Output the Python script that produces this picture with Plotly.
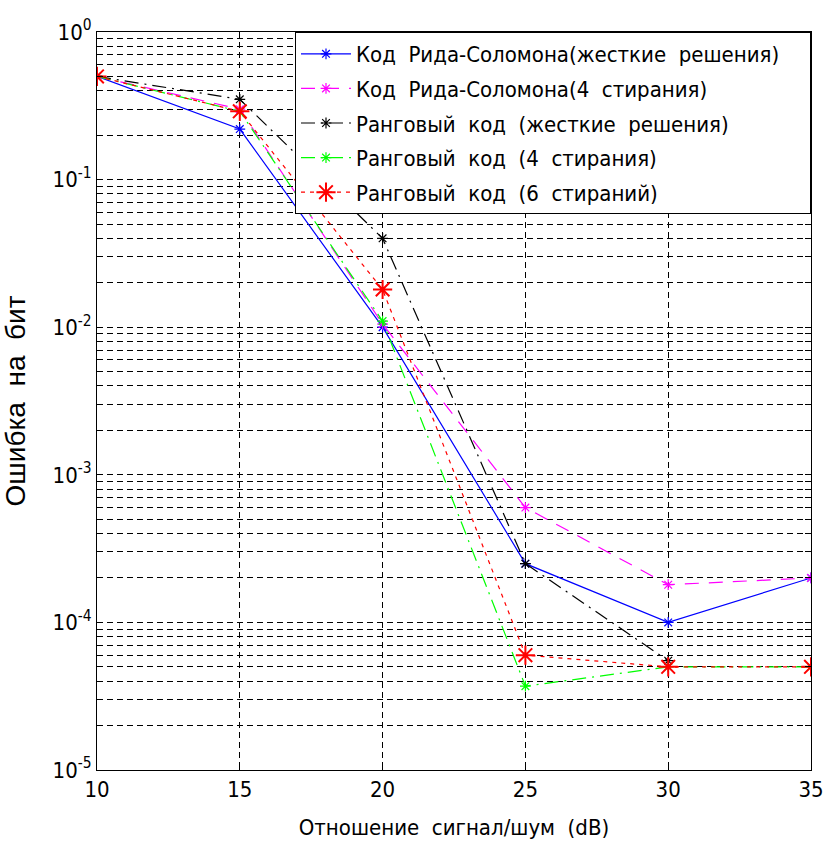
import plotly.graph_objects as go

snr = [10, 15, 20, 25, 30, 35]
snr_black = [10, 15, 20, 25, 30]

rs_hard = [0.5, 0.22, 0.0100, 2.5e-4, 1.0e-4, 2.0e-4]
rs_4er = [0.5, 0.30, 0.0105, 6.0e-4, 1.8e-4, 2.0e-4]
rank_hard = [0.5, 0.35, 0.040, 2.5e-4, 5.5e-5]
rank_4er = [0.5, 0.29, 0.0110, 3.7e-5, 5.0e-5, 5.0e-5]
rank_6er = [0.5, 0.29, 0.018, 6.0e-5, 5.0e-5, 5.0e-5]

names = [
    "Код  Рида-Соломона(жесткие  решения)",
    "Код  Рида-Соломона(4  стирания)",
    "Ранговый  код  (жесткие  решения)",
    "Ранговый  код  (4  стирания)",
    "Ранговый  код  (6  стираний)",
]

x_ticks = [10, 15, 20, 25, 30, 35]
decades = [-5, -4, -3, -2, -1, 0]
y_tickvals = []
y_ticktext = []
for d in decades:
    for m in range(1, 10):
        if d == 0 and m > 1:
            break
        y_tickvals.append(m * 10.0 ** d)
        y_ticktext.append(f"10<sup>{d}</sup>" if m == 1 else "")

NARROW = "DejaVu Sans Condensed, Liberation Sans, Arial, sans-serif"
WIDE = "Liberation Sans, Arial, sans-serif"
PAD = "\u00a0\u00a0\u00a0\u00a0"

fig = go.Figure()

def add(i, x, y, color, dash, msize, mwidth):
    fig.add_trace(go.Scatter(
        x=x, y=y, name=names[i] + PAD, mode="lines+markers", legendgroup=f"g{i}",
        line=dict(color=color, width=1.2, dash=dash),
        marker=dict(symbol="asterisk-open", size=msize, color=color,
                    line=dict(color=color, width=mwidth)),
    ))

add(0, snr, rs_hard, "#0000ff", "solid", 9, 1.2)
add(1, snr, rs_4er, "#ff00ff", "14px,10px", 9, 1.2)
add(2, snr_black, rank_hard, "#000000", "14px,6px,2px,6px", 9, 1.2)
add(3, snr, rank_4er, "#00ff00", "14px,6px,2px,6px", 9, 1.2)
add(4, snr, rank_6er, "#ff0000", "4px,5px", 16, 2)

fig.update_layout(
    width=823, height=850,
    margin=dict(l=97, r=12, t=32, b=80),
    paper_bgcolor="white", plot_bgcolor="white",
    font=dict(family=NARROW, size=22, color="black"),
    showlegend=True,
    legend=dict(
        x=1, y=1, xanchor="right", yanchor="top",
        bgcolor="white", bordercolor="black", borderwidth=1,
        font=dict(family=NARROW, size=22), tracegroupgap=3, itemwidth=50,
    ),
    xaxis=dict(
        range=[10, 35], tickvals=x_ticks, automargin=False,
        ticklabeloverflow="allow",
        showgrid=True, gridcolor="black", griddash="6px,4px", gridwidth=1,
        showline=True, linecolor="black", linewidth=1, mirror="ticks",
        ticks="inside", ticklen=6, tickcolor="black",
        tickfont=dict(family=NARROW, size=22),
        zeroline=False,
        title=dict(text="Отношение  сигнал/шум  (dB)", standoff=18,
                   font=dict(family=NARROW, size=22)),
    ),
    yaxis=dict(
        type="log", range=[-5, 0], automargin=False,
        ticklabeloverflow="allow",
        tickvals=y_tickvals, ticktext=y_ticktext,
        showgrid=True, gridcolor="black", griddash="6px,4px", gridwidth=1,
        showline=True, linecolor="black", linewidth=1, mirror="ticks",
        ticks="inside", ticklen=6, tickcolor="black",
        tickfont=dict(family=NARROW, size=22),
        zeroline=False,
        title=dict(text="Ошибка  на  бит", standoff=26,
                   font=dict(family=WIDE, size=28)),
    ),
)

fig.write_html("out.html")
